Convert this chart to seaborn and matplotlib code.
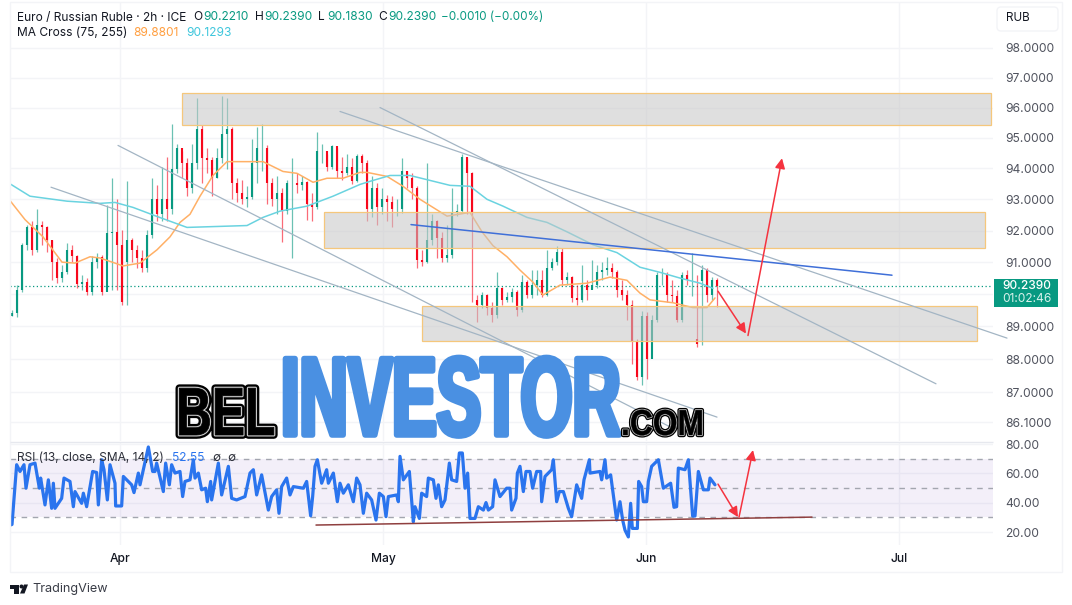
import matplotlib
matplotlib.use("Agg")
import matplotlib.pyplot as plt
import matplotlib.patheffects as pe
import numpy as np
import seaborn as sns
from matplotlib.patches import Circle, FancyBboxPatch, Polygon, Rectangle
from matplotlib.ticker import NullLocator
from matplotlib.transforms import Affine2D

# candles, one every 5 px or so
opens = [
    89.33, 89.42, 90.12, 91.55, 92.10, 91.39, 92.19, 92.10, 91.71, 91.00,
    90.50, 90.68, 91.39, 91.20, 90.31, 90.37, 90.06, 91.00, 91.17, 90.06,
    91.93, 91.96, 91.55, 91.00, 91.71, 91.39, 91.13, 90.81, 91.87, 93.00,
    92.52, 93.00, 92.68, 93.97, 94.65, 94.16, 93.35, 94.16, 95.29, 94.33,
    94.26, 93.68, 94.33, 95.13, 95.29, 93.52, 93.19, 93.00, 93.06, 94.16,
    94.65, 94.65, 93.52, 93.00, 93.19, 92.62, 93.52, 93.52, 93.45, 93.55,
    92.84, 92.74, 94.58, 94.58, 94.03, 94.72, 93.90, 93.84, 94.03, 93.58,
    94.42, 94.16, 92.68, 93.35, 92.74, 93.00, 92.90, 92.68, 92.68, 93.90,
    93.68, 93.35, 91.06, 91.00, 91.71, 92.29, 91.77, 91.13, 91.23, 92.58,
    92.62, 94.38, 93.84, 89.82, 89.67, 89.97, 89.57, 89.36, 90.18, 89.82,
    89.91, 90.06, 89.51, 90.37, 89.97, 90.28, 90.43, 89.97, 90.81, 91.00,
    91.32, 90.43, 90.53, 89.88, 89.82, 90.28, 90.12, 90.28, 90.68, 90.75,
    90.81, 90.68, 90.12, 89.97, 89.67, 88.51, 87.44, 89.33, 88.00, 89.21,
    90.59, 90.59, 89.97, 89.94, 89.21, 90.59, 90.43, 88.60, 90.40, 90.75,
    89.97, 90.43,
]
closes = [
    89.42, 90.12, 91.55, 92.10, 91.39, 92.19, 92.10, 91.71, 91.00, 90.50,
    90.68, 91.39, 91.20, 90.31, 90.37, 90.06, 91.00, 91.17, 90.06, 91.93,
    91.96, 91.55, 89.76, 91.71, 91.39, 91.13, 90.81, 91.87, 93.00, 92.52,
    93.00, 92.68, 93.97, 94.65, 94.16, 93.35, 94.16, 95.29, 94.33, 94.26,
    93.68, 94.33, 95.13, 95.29, 93.52, 93.19, 93.00, 93.06, 94.16, 94.65,
    94.65, 93.52, 93.00, 93.19, 92.62, 93.52, 93.52, 93.45, 93.55, 92.84,
    92.74, 94.58, 94.58, 94.03, 94.72, 93.90, 93.84, 94.03, 93.58, 94.42,
    94.16, 92.68, 93.35, 92.74, 93.00, 92.90, 92.68, 92.68, 93.90, 93.68,
    93.35, 91.06, 91.00, 91.71, 92.29, 91.77, 91.13, 91.23, 92.58, 92.62,
    94.38, 93.84, 92.58, 89.67, 89.97, 89.57, 89.36, 90.18, 89.82, 89.91,
    90.06, 89.51, 90.37, 89.97, 90.28, 90.43, 89.97, 90.81, 91.00, 91.32,
    90.43, 90.53, 89.88, 89.82, 90.28, 90.12, 90.28, 90.68, 90.75, 90.81,
    90.68, 90.12, 89.97, 89.67, 88.51, 87.44, 89.33, 88.00, 89.21, 90.59,
    90.59, 89.97, 89.94, 89.21, 90.59, 90.43, 90.43, 88.45, 90.75, 89.97,
    90.43, 90.24,
]
highs = [
    89.51, 90.28, 91.62, 92.19, 92.29, 92.68, 92.29, 92.16, 91.71, 91.13,
    90.91, 91.62, 91.55, 91.23, 90.59, 90.50, 91.20, 91.29, 91.23, 92.81,
    93.68, 93.00, 92.03, 93.58, 91.77, 91.55, 91.39, 92.03, 93.68, 93.45,
    94.03, 94.38, 95.45, 94.81, 94.58, 94.33, 94.81, 96.32, 95.42, 94.65,
    94.38, 94.65, 96.40, 96.32, 95.35, 93.68, 93.61, 93.42, 94.97, 95.35,
    95.45, 94.75, 93.68, 93.74, 93.35, 93.61, 94.33, 93.84, 93.74, 93.58,
    93.19, 95.19, 94.81, 94.48, 94.78, 94.65, 94.38, 94.48, 94.33, 94.48,
    94.48, 94.26, 93.74, 93.52, 93.35, 93.13, 93.10, 93.00, 94.33, 93.90,
    93.84, 93.42, 91.39, 94.19, 92.52, 92.35, 91.96, 92.19, 93.35, 92.84,
    94.48, 94.33, 93.87, 89.97, 90.06, 90.00, 89.76, 90.68, 90.21, 90.06,
    90.18, 90.12, 90.59, 90.43, 90.75, 90.75, 90.75, 91.39, 91.13, 91.52,
    91.45, 90.68, 90.56, 90.28, 90.91, 90.43, 91.06, 90.91, 91.00, 91.17,
    90.97, 90.75, 90.43, 90.12, 89.82, 88.60, 89.48, 89.45, 89.36, 90.68,
    90.81, 90.68, 90.43, 90.12, 90.68, 90.75, 91.29, 90.59, 90.91, 90.81,
    90.53, 90.50,
]
lows = [
    89.33, 89.30, 90.06, 91.39, 91.23, 91.32, 91.55, 91.32, 90.43, 90.34,
    90.37, 90.62, 91.00, 90.18, 90.12, 89.97, 89.97, 90.81, 89.97, 91.23,
    90.12, 90.12, 89.67, 89.67, 91.00, 90.81, 90.68, 90.68, 91.77, 92.29,
    92.29, 92.29, 92.52, 93.84, 93.68, 93.10, 93.19, 93.97, 93.52, 93.84,
    93.10, 93.68, 94.16, 93.97, 93.00, 92.90, 92.84, 92.74, 93.00, 93.52,
    93.90, 92.84, 92.78, 92.52, 91.65, 92.52, 91.13, 93.19, 93.29, 92.35,
    92.32, 92.68, 94.16, 93.90, 93.97, 93.68, 93.61, 93.77, 93.48, 93.55,
    93.84, 92.29, 92.42, 92.19, 92.52, 92.29, 92.10, 92.48, 92.55, 93.38,
    93.00, 90.81, 90.88, 90.97, 91.55, 91.13, 91.00, 91.00, 91.13, 92.48,
    92.55, 92.52, 89.75, 89.15, 89.57, 89.36, 89.15, 89.27, 89.67, 89.76,
    89.76, 89.33, 89.45, 89.88, 89.88, 89.97, 89.91, 89.94, 90.75, 90.91,
    90.28, 90.28, 89.76, 89.67, 89.76, 89.82, 90.18, 90.18, 90.43, 90.59,
    90.50, 89.91, 89.82, 89.21, 87.84, 87.35, 87.22, 87.38, 89.12, 89.15,
    90.28, 89.76, 89.76, 89.15, 89.15, 90.28, 89.94, 88.36, 88.42, 89.76,
    89.82, 89.60,
]

# moving averages
ma_fast_bars = [
    -0.6, 2.6, 6.2, 10, 12.6, 15.6, 17.6, 20.6, 22.2, 25.6, 29, 31.6, 33.6, 35.6, 37.6,
    40.2, 43, 47, 50.2, 54.2, 57, 60.2, 63, 66.2, 69.6, 71, 75, 78.2, 81.6, 87, 91.6,
    94, 96.2, 99, 101.6, 104.2, 106.2, 109.6, 115, 119.6, 123, 125.6, 127.6, 132.2,
    136.2, 139, 140.6,
]
ma_fast = [
    93.0, 92.35, 91.8, 91.0, 90.97, 91.17, 91.13, 90.97, 90.88, 90.97, 91.39, 91.8,
    92.26, 92.52, 93.1, 93.77, 94.22, 94.22, 94.22, 93.9, 93.84, 93.55, 93.68, 93.68,
    93.87, 93.87, 93.74, 93.42, 93.0, 92.46, 92.58, 91.96, 91.52, 91.17, 90.75, 90.37,
    89.97, 90.28, 90.34, 90.53, 90.43, 90.03, 89.82, 89.73, 89.58, 89.58, 89.88,
]
ma_slow_bars = [
    -0.6, 3.6, 11, 17.6, 20.6, 24.2, 29, 35, 41, 47, 50.2, 53.6, 59, 64.2, 69.6, 71.6,
    75.6, 79.6, 87.6, 91.6, 95, 98.2, 103, 107, 111, 116.2, 121, 125.6, 129.6, 133.6,
    137.6, 140.2,
]
ma_slow = [
    93.52, 93.1, 92.94, 92.87, 92.9, 92.74, 92.45, 92.1, 92.13, 92.16, 92.42, 92.62,
    92.78, 93.1, 93.48, 93.58, 93.77, 93.77, 93.45, 93.42, 93.0, 92.78, 92.42, 92.26,
    91.96, 91.55, 91.3, 90.84, 90.68, 90.5, 90.34, 90.18,
]

# RSI turning points
rsi_bars = [
    -0.4, 0, 0.93, 1.6, 2.4, 2.8, 3.6, 4.6, 5.47, 5.73, 6.6, 7.27, 7.93, 8.27, 8.6, 9.93,
    10.4, 11.6, 12.27, 12.6, 13.93, 14.27, 14.93, 16.13, 16.93, 17.27, 17.93, 18.4, 19.07,
    19.6, 20.6, 20.73, 21.93, 22.27, 23.93, 24.4, 25.27, 25.6, 26.27, 27.27, 28.13, 28.6,
    28.93, 30.27, 30.73, 31.47, 31.93, 32.6, 33.6, 34.13, 34.6, 35.6, 36.27, 36.6, 37.27,
    37.93, 38.73, 39.07, 39.73, 39.93, 41.27, 41.93, 43.27, 43.93, 44.93, 46.6, 47.6,
    48.27, 48.93, 49.93, 51.27, 51.93, 52.93, 53.4, 53.93, 54.93, 55.6, 56.27, 58.27,
    58.93, 59.73, 60.13, 60.6, 61.07, 61.93, 62.93, 63.27, 64.27, 65.07, 65.6, 66.27,
    67.27, 68.27, 68.93, 69.6, 70.27, 70.93, 71.93, 72.8, 73.47, 74.27, 74.8, 75.27,
    76.93, 77.27, 77.6, 78.27, 79.47, 80.27, 80.6, 81.47, 81.93, 82.93, 83.27, 84.27,
    84.8, 85.27, 85.93, 86.6, 87.47, 87.93, 88.93, 89.47, 90.07, 90.6, 91.13, 91.6, 92.6,
    93.27, 94.27, 94.8, 95.27, 96.13, 96.6, 97.6, 98.93, 99.6, 99.93, 100.8, 101.07,
    101.6, 102.27, 102.8, 103.6, 104.13, 104.93, 105.73, 105.93, 106.6, 107.93, 108.27,
    108.93, 109.47, 110.27, 111.27, 111.93, 112.93, 113.93, 114.4, 115.47, 115.6, 117.6,
    117.93, 118.6, 118.93, 119.73, 120.93, 121.6, 122.13, 122.6, 123.27, 123.73, 124.07,
    125.07, 125.33, 125.93, 126.27, 126.93, 127.27, 127.93, 129.27, 129.73, 130.27,
    131.73, 132.4, 132.93, 133.27, 134.6, 135.27, 136.13, 136.6, 137.27, 138.27, 139.27,
    139.6, 140.6,
]
rsi_vals = [
    24.7, 25.2, 65.9, 61.3, 65.9, 49.9, 65.9, 67.0, 49.9, 56.8, 38.5, 55.6, 36.2, 53.3, 36.2, 43.0,
    56.8, 54.5, 37.3, 47.6, 39.6, 46.5, 37.3, 61.3, 60.6, 38.5, 69.3, 62.5, 41.9,
    65.9, 53.3, 37.8, 37.8, 57.9, 52.2, 46.9, 60.2, 52.2, 62.5, 78.0, 61.3, 61.3,
    67.0, 47.6, 67.0, 52.2, 65.9, 60.2, 61.3, 44.2, 54.5, 55.6, 69.3, 56.8, 60.2,
    48.8, 49.9, 40.7, 54.5, 41.9, 67.0, 45.3, 64.8, 43.0, 41.9, 44.2, 60.2,
    62.5, 45.3, 59.0, 35.0, 44.2, 48.8, 32.8, 51.0, 56.8, 45.3, 51.0, 49.9,
    54.5, 31.1, 44.2, 64.8, 69.3, 53.3, 62.5, 53.3, 60.2, 40.7, 53.3, 46.5,
    52.2, 40.7, 56.8, 52.2, 32.8, 46.5, 41.9, 28.2, 46.5, 44.2, 30.5, 44.2,
    45.3, 40.7, 71.6, 55.6, 61.3, 27.0, 37.3, 29.3, 46.5, 44.2, 56.8, 55.6,
    43.0, 52.2, 37.3, 41.9, 67.0, 55.6, 54.5, 73.9, 73.9, 49.9, 60.2, 29.3, 29.3,
    37.3, 35.0, 40.1, 35.0, 37.3, 55.6, 44.2, 49.9, 49.9, 35.0, 43.0, 60.2,
    64.8, 47.6, 61.3, 61.3, 49.9, 61.3, 61.3, 40.7, 57.9, 62.5, 69.3,
    40.7, 47.6, 47.6, 36.2, 30.5, 52.2, 43.0, 55.6, 69.3, 60.2, 61.3,
    55.6, 69.3, 56.8, 59.0, 28.2, 40.7, 28.2, 21.3, 16.7, 39.6, 22.5,
    22.5, 54.5, 51.0, 40.7, 40.7, 54.5, 64.8, 69.3, 60.2, 49.9,
    53.3, 36.9, 37.3, 63.6, 62.5, 69.3, 30.9, 30.9, 61.3, 48.8, 48.8,
    56.8, 52.2,
]

# drawings on the chart: (bar from, bar to, price low, price high)
zones = [
    (34.0, 195.8, 95.42, 96.50),
    (62.4, 194.6, 91.45, 92.58),
    (82.0, 193.0, 88.54, 89.64),
]
trend_lines = [
    (7.8, 141.0, 93.39, 86.25),
    (21.2, 132.0, 94.75, 85.93),
    (65.6, 199.0, 95.87, 88.64),
    (73.6, 184.8, 96.00, 87.25),
]
blue_line = (79.8, 176.0, 92.19, 90.59)
price_arrows = [(141.2, 90.09, 146.8, 88.78), (147.2, 88.72, 154.0, 94.33)]
rsi_arrows = [(141.2, 52.7, 145.2, 30.2), (145.4, 30.2, 148.2, 75.9)]
rsi_support = (60.8, 160.0, 24.8, 30.2)

price_ticks = [98, 97, 96, 95, 94, 93, 92, 91, 90, 89, 88, 87, 86.1]
price_labels = ["98.0000", "97.0000", "96.0000", "95.0000", "94.0000", "93.0000", "92.0000",
                "91.0000", "", "89.0000", "88.0000", "87.0000", "86.1000"]
rsi_ticks = [80, 60, 40, 20]
rsi_labels = ["80.00", "60.00", "40.00", "20.00"]
month_ticks = [21.6, 74.2, 126.8, 177.4]
month_labels = ["Apr", "May", "Jun", "Jul"]
last_price = 90.239

W, H = 1072, 605
UP = "#089981"
DOWN = "#f7081c"
GRID = "#f3f4f7"
TEXT = "#131722"
AXIS_TEXT = "#50535e"
ZONE_EDGE = "#f5c77c"
TREND = "#a3b5c4"
ARROW = "#f5333f"

sns.set_theme(style="white")
plt.rcParams["font.family"] = ["Inter", "DejaVu Sans"]
plt.rcParams["axes.unicode_minus"] = False


class Squeeze(pe.AbstractPathEffect):
    # the logo lettering is far narrower than any installed font
    def __init__(self, sx, lw=0, stroke=None):
        super().__init__()
        self.sx = sx
        self.lw = lw
        self.stroke = stroke

    def draw_path(self, renderer, gc, tpath, affine, rgbFace=None):
        gc0 = renderer.new_gc()
        gc0.copy_properties(gc)
        if self.stroke:
            gc0.set_linewidth(self.lw)
            gc0.set_foreground(self.stroke)
            gc0.set_joinstyle("round")
        renderer.draw_path(gc0, tpath, Affine2D().scale(self.sx, 1) + affine, rgbFace)
        gc0.restore()


def axes_rect(left, top, right, bottom):
    return [left / W, 1 - bottom / H, (right - left) / W, (bottom - top) / H]


def px_text(x, y, s, **kwargs):
    kwargs.setdefault("va", "center")
    kwargs.setdefault("fontsize", 8.6)
    kwargs.setdefault("color", TEXT)
    return fig.text(x / W, 1 - y / H, s, **kwargs)


def px_patch(patch):
    patch.set_transform(Affine2D().scale(1 / W, -1 / H).translate(0, 1) + fig.transFigure)
    fig.add_artist(patch)


def draw_arrow(ax, x0, y0, x1, y1):
    ax.annotate("", xy=(x1, y1), xytext=(x0, y0), zorder=8,
                arrowprops=dict(arrowstyle="-|>", color=ARROW, lw=1.1, mutation_scale=15,
                                shrinkA=0, shrinkB=0))


def style_axes(ax):
    for spine in ax.spines.values():
        spine.set_visible(False)
    ax.set_xlim(-0.4, 196.2)
    ax.set_xticks(month_ticks)
    ax.yaxis.tick_right()
    ax.tick_params(axis="y", length=0, pad=9, labelsize=8.7, labelcolor=AXIS_TEXT)
    ax.tick_params(axis="x", length=0)
    ax.grid(True, color=GRID, linewidth=1.0)
    ax.set_axisbelow(True)
    ax.set_xlabel("")
    ax.set_ylabel("")


fig = plt.figure(figsize=(W / 100, H / 100), dpi=100, facecolor="white")
ax = fig.add_axes(axes_rect(10, 2, 993, 441))
ax_rsi = fig.add_axes(axes_rect(10, 443, 993, 545))

# price panel
ax.set_yscale("log")
bars = np.arange(len(closes))
candle_colors = [UP if c >= o else DOWN for o, c in zip(opens, closes)]
ax.vlines(bars, lows, highs, colors=candle_colors, linewidth=0.9, alpha=0.6, zorder=2)
ax.vlines(bars, opens, closes, colors=candle_colors, linewidth=1.5, zorder=3)

ax.axhline(last_price, color=UP, linewidth=0.9, linestyle=(0, (1, 2)), zorder=1)

sns.lineplot(x=ma_fast_bars, y=ma_fast, ax=ax, color="#ffb066", linewidth=1.1,
             estimator=None, zorder=4)
sns.lineplot(x=ma_slow_bars, y=ma_slow, ax=ax, color="#6ad3e0", linewidth=1.1,
             estimator=None, zorder=4)

for x0, x1, low, high in zones:
    ax.add_patch(Rectangle((x0, low), x1 - x0, high - low, facecolor="#c6c6c6", alpha=0.55,
                           edgecolor="none", zorder=5))
    ax.add_patch(Rectangle((x0, low), x1 - x0, high - low, facecolor="none",
                           edgecolor=ZONE_EDGE, linewidth=0.9, zorder=5))

for x0, x1, y0, y1 in trend_lines:
    sns.lineplot(x=[x0, x1], y=[y0, y1], ax=ax, color=TREND, linewidth=0.9, estimator=None,
                 zorder=6, clip_on=False)
sns.lineplot(x=list(blue_line[:2]), y=list(blue_line[2:]), ax=ax, color="#3f6fd8", linewidth=1.1,
             estimator=None, zorder=6)

for x0, y0, x1, y1 in price_arrows:
    draw_arrow(ax, x0, y0, x1, y1)

ax.set_ylim(85.54, 99.57)
ax.set_yticks(price_ticks)
ax.set_yticklabels(price_labels)
ax.yaxis.set_minor_locator(NullLocator())
style_axes(ax)
ax.set_xticklabels([])

# RSI panel
ax_rsi.axhspan(30, 70, color="#7e57c2", alpha=0.09, linewidth=0, zorder=1)
for level in [70, 50, 30]:
    ax_rsi.axhline(level, color="#a3a6af", linewidth=1.0, linestyle=(0, (4, 4)), zorder=2)
sns.lineplot(x=rsi_bars, y=rsi_vals, ax=ax_rsi, color="#2a74ee", linewidth=2.3, estimator=None,
             zorder=4)
sns.lineplot(x=list(rsi_support[:2]), y=list(rsi_support[2:]), ax=ax_rsi, color="#8f3f3f",
             linewidth=1.1, estimator=None, zorder=5)
for x0, y0, x1, y1 in rsi_arrows:
    draw_arrow(ax_rsi, x0, y0, x1, y1)
ax_rsi.set_ylim(11.2, 80.7)
ax_rsi.set_yticks(rsi_ticks)
ax_rsi.set_yticklabels(rsi_labels)
style_axes(ax_rsi)
ax_rsi.set_xticklabels(month_labels, fontsize=8.7, color=TEXT, fontweight="medium")
ax_rsi.tick_params(axis="x", pad=6)

# frame round the chart
px_patch(Rectangle((9.5, 2), 1052.5, 570, facecolor="none", edgecolor=GRID, linewidth=1.0))
px_patch(Rectangle((10, 441.5), 983, 0.5, facecolor="none", edgecolor="#e6e8ee", linewidth=1.0))
px_patch(FancyBboxPatch((999, 9), 57, 20, boxstyle="round,pad=2,rounding_size=4",
                        facecolor="white", edgecolor=GRID, linewidth=1.0))
px_patch(Rectangle((994, 279), 63.5, 28, facecolor=UP, edgecolor="none"))

# header and right hand labels
px_text(17, 17.5, "Euro / Russian Ruble · 2h · ICE")
for x, letter, value in [(193, "O", "90.2210"), (255, "H", "90.2390"),
                         (318, "L", "90.1830"), (378, "C", "90.2390")]:
    px_text(x, 17.5, letter)
    px_text(x + (10 if letter in "OC" else 9), 17.5, value, color=UP)
px_text(441, 17.5, "−0.0010 (−0.00%)", color=UP, fontsize=8.4)
px_text(17, 33, "MA Cross (75, 255)")
px_text(133, 33, "89.8801", color="#ff9f40")
px_text(186, 33, "90.1293", color="#3fc6dc")
px_text(1006, 18, "RUB", color=TEXT, fontsize=8.4)
px_text(1002, 286, "90.2390", color="white", fontweight="medium")
px_text(1002, 299.5, "01:02:46", color="#d9f2ec")

px_text(17, 458, "RSI (13, close, SMA, 14, 2)", color="#2b2e38")
px_text(172, 458, "52.55", color="#2a74ee")
px_text(212, 458, "∅", fontsize=8.5, color="#2b2e38")
px_text(227, 458, "∅", fontsize=8.5, color="#2b2e38")

# logo
px_text(176, 435, "BEL", va="baseline", fontsize=49, fontweight="bold", color="black",
        family="Liberation Sans", zorder=10,
        path_effects=[Squeeze(0.73, 5.5, "black"), Squeeze(0.73, 2.2, "#c9c9c9"),
                      Squeeze(0.73, 0.5, "black")])
px_text(281, 435, "INVESTOR", va="baseline", fontsize=80, fontweight="bold", color="#4a90e2",
        family="Liberation Sans", zorder=10,
        path_effects=[Squeeze(0.6, 4.0, "#4a90e2")])
px_text(621, 435, ".COM", va="baseline", fontsize=26, fontweight="bold", color="black",
        family="Liberation Sans", zorder=10,
        path_effects=[Squeeze(0.88, 3.2, "black"), Squeeze(0.88, 1.4, "#c9c9c9"),
                      Squeeze(0.88, 0.3, "black")])

# TradingView mark
px_patch(Rectangle((10, 584.5), 9, 4, facecolor="#131722", edgecolor="none"))
px_patch(Rectangle((14, 584.5), 4.5, 9, facecolor="#131722", edgecolor="none"))
px_patch(Circle((21.5, 586.5), 2, facecolor="#131722", edgecolor="none"))
px_patch(Polygon([(24, 584.5), (28, 584.5), (24.5, 593.5), (20, 593.5)], closed=True,
                 facecolor="#131722", edgecolor="none"))
px_text(32, 589, "TradingView", fontsize=9.1, color="#3a3d47")

fig.savefig("out.png", dpi=100)
